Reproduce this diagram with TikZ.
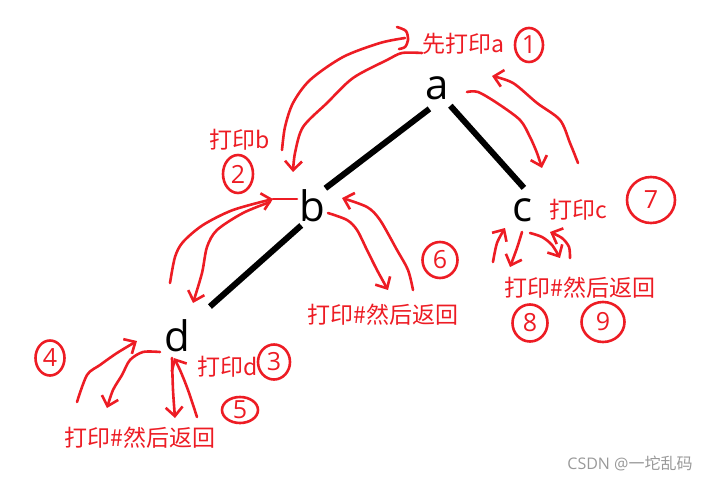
\documentclass[tikz,border=0pt]{standalone}
\usepackage{fontspec}
\setmainfont{Open Sans}
\newfontfamily\cjk{Noto Sans CJK SC}
\usetikzlibrary{arrows.meta,shapes.geometric}
\definecolor{paintred}{RGB}{237,28,36}
\begin{document}
\begin{tikzpicture}[x=1pt,y=-1pt,line cap=round,line join=round,>={Straight Barb[length=9pt,width=17pt]}]
	\tikzset{letter/.style={circle,inner sep=0pt,minimum size=44pt,font=\fontsize{42}{42}\selectfont},
		edge/.style={line width=6pt,line cap=butt},
		note/.style={text=paintred,inner sep=0pt,font=\cjk\fontsize{23}{23}\selectfont},
		hand/.style={paintred,line width=2.6pt},
		ring/.style={hand,draw,ellipse,inner sep=0pt,text=paintred,font=\fontsize{25}{25}\selectfont}}
	\useasboundingbox (0,0) rectangle (714,481);
	% tree
	\node[letter] (a) at (437,88) {a};
	\node[letter] (b) at (312,206) {b};
	\node[letter] (c) at (522,210) {c};
	\node[letter] (d) at (177,336) {d};
	\draw[edge] (a.250) -- (b.53);
	\draw[edge] (a.307) -- (c.85);
	\draw[edge,shorten >=22pt] (b.241) -- (d.42);
	% notes
	\node[note] (pa) at (463,44) {先打印a};
	\node[note] (pb) at (240,140) {打印b};
	\node[note] (pc) at (578,210) {打印c};
	\node[note] (pd) at (228,367) {打印d};
	\node[note] (pbr) at (383,315) {打印\#然后返回};
	\node[note] (pcr) at (580,288) {打印\#然后返回};
	\node[note] (pdr) at (140,438) {打印\#然后返回};
	\node[text=black!40,font=\fontsize{16}{16}\selectfont] (wm) at (630,463) {CSDN @{\cjk 一坨乱码}};
	% step numbers
	\foreach\i/\x/\y/\w/\h in {1/529/45/28/34,2/238/174/30/38,3/274/362/32/35,
		4/50/358/29/35,5/240/410/36/26,6/440/260/35/36,7/651/200/48/46,
		8/530/323/35/37,9/603/322/43/40}
		{\node[ring,minimum width=\w pt,minimum height=\h pt] (n\i) at (\x,\y) {\i};}
	% a -> b and back
	\draw[hand,->] plot[smooth] coordinates {(422,53) (402,53) (387,60) (353,78) (327,103) (303,127) (295,153) (293,172)};
	\draw[hand] plot[smooth] coordinates {(282,150) (285,127) (293,103) (310,80) (343,57) (380,43) (405,38)};
	\draw[hand] plot[smooth] coordinates {(397,27) (406,31) (408,40) (405,47) (399,49)};
	% a -> c and back
	\draw[hand,->] plot[smooth] coordinates {(467,92) (478,92) (497,103) (520,120) (530,137) (537,153) (542,168)};
	\draw[hand,->] plot[smooth] coordinates {(578,163) (570,143) (560,120) (537,103) (513,83) (492,76)};
	% b -> d and back
	\draw[hand,->] plot[smooth] coordinates {(270,202) (243,213) (217,230) (207,247) (202,273) (193,303)};
	\draw[hand,->] plot[smooth] coordinates {(170,283) (175,257) (183,242) (203,225) (233,210) (273,199)};
	\draw[hand] (273,199) -- (297,199);
	% d left and right
	\draw[hand,->] plot[smooth] coordinates {(77,402) (87,375) (100,365) (117,353) (137,341)};
	\draw[hand,->] plot[smooth] coordinates {(160,352) (143,352) (130,360) (122,375) (113,390) (107,408)};
	\draw[hand,->] plot[smooth] coordinates {(172,358) (173,390) (175,418)};
	\draw[hand,->] plot[smooth] coordinates {(197,417) (188,390) (180,370) (174,358)};
	% b right
	\draw[hand,->] plot[smooth] coordinates {(328,213) (347,220) (357,230) (367,250) (377,270) (388,290)};
	\draw[hand,->] plot[smooth] coordinates {(413,290) (408,270) (397,250) (380,220) (367,207) (342,198)};
	% c left and right
	\draw[hand,->] plot[smooth] coordinates {(493,262) (497,243) (505,228)};
	\draw[hand,->] plot[smooth] coordinates {(522,232) (517,248) (510,267)};
	\draw[hand,->] plot[smooth] coordinates {(530,233) (542,237) (552,245) (560,258)};
	\draw[hand,->] plot[smooth] coordinates {(570,258) (569,247) (562,238) (550,232)};
\end{tikzpicture}
\end{document}
